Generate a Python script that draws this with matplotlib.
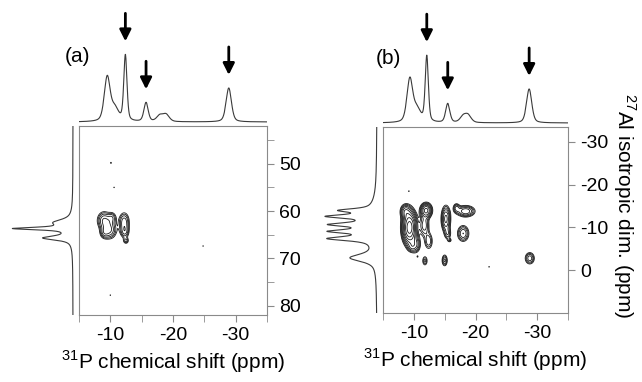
import numpy as np
import matplotlib
matplotlib.use("Agg")
import matplotlib.pyplot as plt
from matplotlib.ticker import MultipleLocator, FixedLocator

plt.rcParams['font.family'] = ['Liberation Sans', 'DejaVu Sans']
plt.rcParams['mathtext.fontset'] = 'custom'
plt.rcParams['mathtext.rm'] = 'Liberation Sans'
plt.rcParams['axes.unicode_minus'] = False

W, H = 642, 382

# 31P projection (top): peak position (ppm), height, half width (ppm)
top_ppm_a = [-9.5, -10.7, -12.4, -15.7, -17.9, -18.9, -28.9]
top_h_a = [44, 13, 66, 19, 6, 7, 34]
top_w_a = [0.55, 0.7, 0.3, 0.4, 0.6, 0.6, 0.5]

top_ppm_b = [-9.35, -10.5, -12.1, -15.5, -18.0, -18.8, -28.7]
top_h_b = [43, 13, 66, 19, 6, 7, 34]
top_w_b = [0.55, 0.7, 0.3, 0.4, 0.6, 0.6, 0.5]

# 27Al projection (left)
left_ppm_a = [62.4, 63.7, 65.7, 63.5]
left_h_a = [14, 52, 27, 5]
left_w_a = [0.7, 0.3, 0.5, 2.0]

left_ppm_b = [-14.0, -12.6, -10.7, -9.1, -7.4, -2.9, -11.0]
left_h_b = [30, 40, 36, 37, 42, 25, 9]
left_w_b = [0.45, 0.45, 0.45, 0.45, 0.55, 1.0, 4.0]

# arrows above selected 31P peaks
arrow_ppm_a = [-12.4, -15.7, -28.9]
arrow_ppm_b = [-12.1, -15.5, -28.7]

# 2D cross peaks: x ppm, y ppm, x width, y width, amplitude
peaks2d_a = [
    (-9.0, 62.0, 0.7, 1.2, 1.0),
    (-9.9, 64.0, 0.7, 1.2, 1.0),
    (-9.0, 64.6, 0.45, 0.8, 0.55),
    (-10.3, 61.4, 0.45, 0.8, 0.55),
    (-12.2, 62.3, 0.55, 1.3, 0.9),
    (-12.3, 64.4, 0.45, 0.9, 0.7),
    (-12.5, 66.3, 0.3, 0.45, 0.55),
    (-10.1, 49.8, 0.12, 0.2, 0.36),
    (-10.6, 55.0, 0.1, 0.15, 0.34),
    (-24.8, 67.4, 0.1, 0.15, 0.34),
    (-10.0, 77.8, 0.1, 0.15, 0.34),
]
peaks2d_b = [
    (-9.3, -10.0, 0.65, 2.2, 4.0),
    (-8.6, -13.8, 0.5, 1.0, 1.0),
    (-10.3, -6.0, 0.5, 1.2, 0.9),
    (-9.6, -5.4, 0.4, 0.7, 0.5),
    (-12.0, -14.0, 0.55, 1.0, 2.0),
    (-11.7, -10.5, 0.5, 1.6, 0.9),
    (-12.4, -6.8, 0.45, 1.3, 0.7),
    (-15.2, -12.0, 0.45, 1.8, 1.5),
    (-15.5, -8.5, 0.35, 0.9, 0.6),
    (-15.8, -7.0, 0.22, 0.3, 0.45),
    (-18.4, -13.8, 0.9, 0.8, 1.3),
    (-16.9, -14.6, 0.35, 0.7, 0.7),
    (-18.0, -8.6, 0.6, 1.2, 1.0),
    (-11.8, -2.2, 0.3, 0.8, 0.6),
    (-15.0, -2.3, 0.3, 0.9, 0.8),
    (-28.8, -2.8, 0.5, 0.9, 0.9),
    (-9.2, -18.5, 0.1, 0.2, 0.34),
    (-10.6, -3.2, 0.1, 0.2, 0.34),
    (-22.2, -0.8, 0.1, 0.2, 0.34),
]

x_range = (-5, -35)
y_range_a = (82, 42)
y_range_b = (10, -33.5)
y_ticks_a = [50, 60, 70, 80]
y_ticks_b = [-30, -20, -10, 0]


def rect(x0, y0, x1, y1):
    # pixel box (top-left origin) -> figure fraction
    return [x0 / W, 1 - y1 / H, (x1 - x0) / W, (y1 - y0) / H]


def lineshape(x, pos, hts, wid, eta=0.4):
    out = np.zeros_like(x)
    for c, h, w in zip(pos, hts, wid):
        d = (x - c) / w
        out += h * (eta / (1 + d ** 2) + (1 - eta) * np.exp(-np.log(2) * d ** 2))
    return out


def gauss2d(X, Y, peaks):
    Z = np.zeros_like(X)
    for cx, cy, sx, sy, a in peaks:
        Z += a * np.exp(-0.5 * (((X - cx) / sx) ** 2 + ((Y - cy) / sy) ** 2))
    return Z


fig = plt.figure(figsize=(W / 100, H / 100), dpi=100)
box_col = '#8a8a8a'
trace_col = '#3a3a3a'


def panel(box, top_pp, top_h, top_w, left_pp, left_h, left_w, left_x0,
          arrows, peaks, yr, y_ticks, minor_y, label, label_xy):
    x0, y0, x1, y1 = box
    ax = fig.add_axes(rect(x0, y0, x1, y1))
    ax.set_xlim(*x_range)
    ax.set_ylim(*yr)
    xs = np.linspace(x_range[1], x_range[0], 600)
    ys = np.linspace(min(yr), max(yr), 600)
    X, Y = np.meshgrid(xs, ys)
    Z = gauss2d(X, Y, peaks)
    levels = 0.3 * 1.35 ** np.arange(12)
    ax.contour(X, Y, Z, levels=levels, colors='#1a1a1a', linewidths=0.6)
    for s in ax.spines.values():
        s.set_color(box_col)
    ax.yaxis.tick_right()
    ax.xaxis.set_major_locator(MultipleLocator(10))
    ax.xaxis.set_minor_locator(MultipleLocator(5))
    ax.yaxis.set_major_locator(FixedLocator(y_ticks))
    if minor_y:
        ax.yaxis.set_minor_locator(MultipleLocator(5))
    ax.tick_params(which='both', direction='out', length=5, color=box_col,
                   labelsize=14, pad=4)
    ax.tick_params(axis='x', which='minor', labelbottom=False)
    ax.set_xlabel(r'$^{31}$P chemical shift (ppm)', fontsize=15, labelpad=3)

    # top projection
    at = fig.add_axes(rect(x0, 5, x1, y0 - 3))
    at.set_xlim(*x_range)
    at.set_ylim(-1, y0 - 3 - 5 - 1)
    xp = np.linspace(x_range[1], x_range[0], 1500)
    at.plot(xp, lineshape(xp, top_pp, top_h, top_w), color=trace_col, lw=0.8)
    at.axis('off')
    for a in arrows:
        tip = lineshape(np.array([a]), top_pp, top_h, top_w)[0] + 13
        at.annotate('', xy=(a, tip), xytext=(a, tip + 28),
                    arrowprops=dict(arrowstyle='-|>', lw=2.0, color='k',
                                    mutation_scale=17, shrinkA=0, shrinkB=0),
                    annotation_clip=False)

    # left projection
    al = fig.add_axes(rect(left_x0, y0, x0 - 5, y1))
    span = x0 - 5 - left_x0
    al.set_xlim(span - 1, -1)
    al.set_ylim(*yr)
    yp = np.linspace(min(yr), max(yr), 1500)
    al.plot(lineshape(yp, left_pp, left_h, left_w, eta=0.7), yp,
            color=trace_col, lw=0.8)
    al.axis('off')

    fig.text(label_xy[0] / W, 1 - label_xy[1] / H, label, fontsize=15,
             ha='center', va='center')
    return ax


panel((79, 126, 267, 315), top_ppm_a, top_h_a, top_w_a,
      left_ppm_a, left_h_a, left_w_a, 4, arrow_ppm_a, peaks2d_a,
      y_range_a, y_ticks_a, True, '(a)', (77, 57))
panel((383, 127, 568, 313), top_ppm_b, top_h_b, top_w_b,
      left_ppm_b, left_h_b, left_w_b, 316, arrow_ppm_b, peaks2d_b,
      y_range_b, y_ticks_b, False, '(b)', (388, 58))

fig.text(624 / W, 1 - 206 / H, r'$^{27}$Al isotropic dim. (ppm)', fontsize=15,
         rotation=270, ha='center', va='center')

fig.savefig('out.png', dpi=100)
